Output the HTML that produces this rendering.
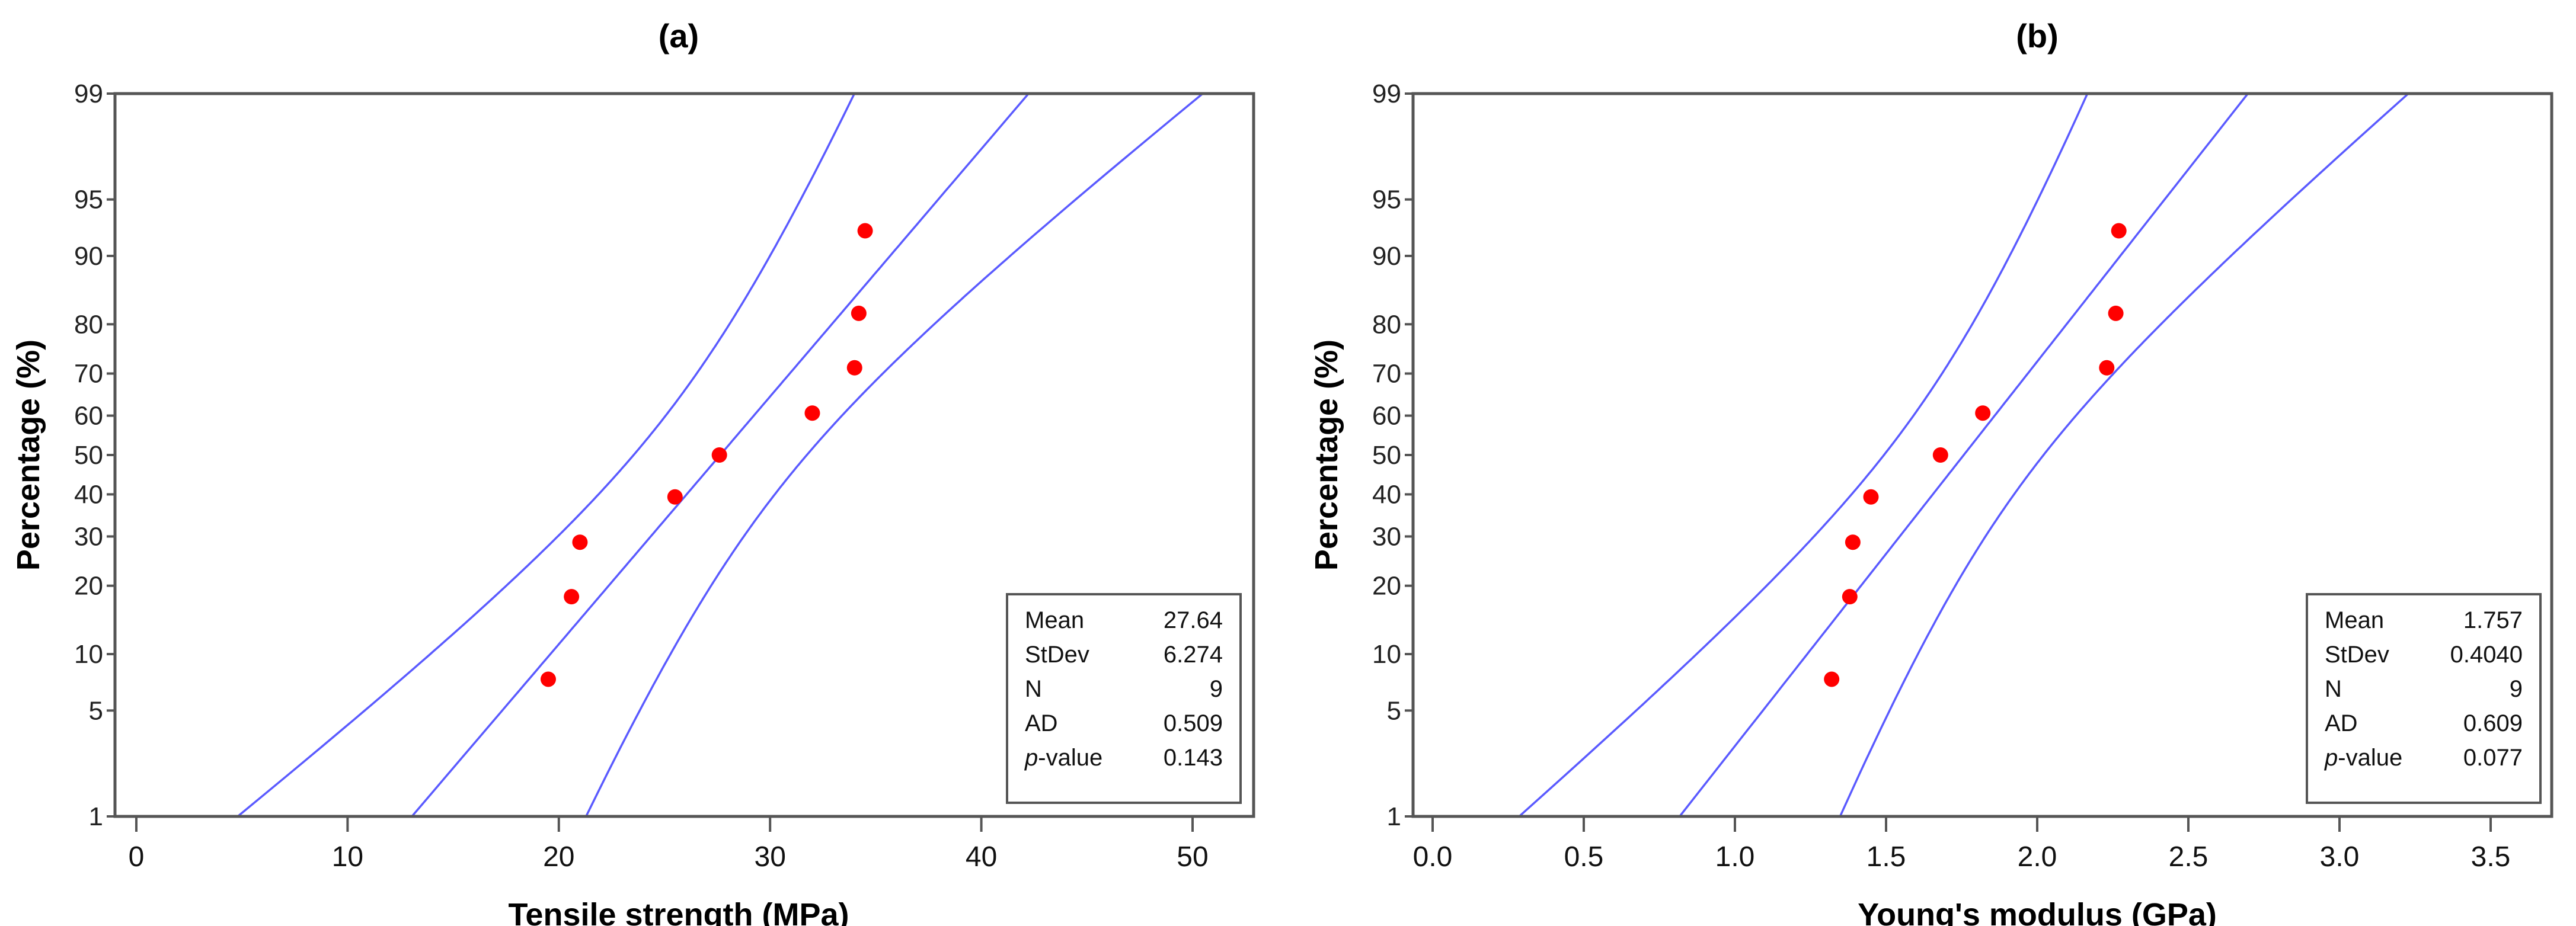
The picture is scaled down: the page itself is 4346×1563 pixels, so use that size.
<!DOCTYPE html>
<html><head><meta charset="utf-8"><style>
html,body{margin:0;padding:0;background:#fff;}
svg{display:block;font-family:"Liberation Sans",sans-serif;}
</style></head><body>
<svg id="fig" width="4346" height="1563" viewBox="0 0 4346 1563"></svg>
<script>
const yTicks = [1,5,10,20,30,40,50,60,70,80,90,95,99];
const aXTicks = [0,10,20,30,40,50];
const aXLabels = ["0","10","20","30","40","50"];
const aValues = [19.5,20.6,21.0,25.5,27.6,32.0,34.0,34.2,34.5];
const aStats = [27.64,6.274,9];
const aLegendVals = ["27.64","6.274","9","0.509","0.143"];
const bXTicks = [0,0.5,1,1.5,2,2.5,3,3.5];
const bXLabels = ["0.0","0.5","1.0","1.5","2.0","2.5","3.0","3.5"];
const bValues = [1.32,1.38,1.39,1.45,1.68,1.82,2.23,2.26,2.27];
const bStats = [1.757,0.4040,9];
const bLegendVals = ["1.757","0.4040","9","0.609","0.077"];
const legendKeys = ["Mean","StDev","N","AD","p-value"];

const NS="http://www.w3.org/2000/svg";
const svg=document.getElementById('fig');
function mk(tag,attrs,parent){const e=document.createElementNS(NS,tag);for(const k in attrs)e.setAttribute(k,attrs[k]);(parent||svg).appendChild(e);return e;}
function ninv(p){
 const a=[-39.69683028665376,220.9460984245205,-275.9285104469687,138.3577518672690,-30.66479806614716,2.506628277459239];
 const b=[-54.47609879822406,161.5858368580409,-155.6989798598866,66.80131188771972,-13.28068155288572];
 const c=[-0.007784894002430293,-0.3223964580411365,-2.400758277161838,-2.549732539343734,4.374664141464968,2.938163982698783];
 const d=[0.007784695709041462,0.3224671290700398,2.445134137142996,3.754408661907416];
 const pl=0.02425;let q,r;
 if(p<pl){q=Math.sqrt(-2*Math.log(p));return (((((c[0]*q+c[1])*q+c[2])*q+c[3])*q+c[4])*q+c[5])/((((d[0]*q+d[1])*q+d[2])*q+d[3])*q+1);}
 if(p>1-pl){q=Math.sqrt(-2*Math.log(1-p));return -(((((c[0]*q+c[1])*q+c[2])*q+c[3])*q+c[4])*q+c[5])/((((d[0]*q+d[1])*q+d[2])*q+d[3])*q+1);}
 q=p-0.5;r=q*q;return (((((a[0]*r+a[1])*r+a[2])*r+a[3])*r+a[4])*r+a[5])*q/(((((b[0]*r+b[1])*r+b[2])*r+b[3])*r+b[4])*r+1);
}
function panel(cfg){
 const g=mk('g',{});
 
 
 const L=cfg.left,R=cfg.right,T=158,B=1378;
 const zmax=ninv(0.99);
 const yS=p=>(T+B)/2 - ninv(p/100)/zmax*(B-T)/2;
 const xS=v=>cfg.x0+(v-cfg.xt[0])/(cfg.xt[cfg.xt.length-1]-cfg.xt[0])*(cfg.x1-cfg.x0);
 const cid='clip-'+cfg.name;
 const cp=mk('clipPath',{id:cid},g);mk('rect',{x:L,y:T,width:R-L,height:B-T},cp);
 const [mu,sd,n]=cfg.stats;
 const lines=[[],[],[]];
 for(let i=0;i<=200;i++){
  const pp=0.5+(99.5-0.5)*i/200;
  const z=ninv(pp/100);
  const xp=mu+z*sd;
  const se=1.96*sd*Math.sqrt(1/n+z*z/(2*(n-1)));
  const y=yS(pp);
  lines[0].push([xS(xp-se),y]);lines[1].push([xS(xp),y]);lines[2].push([xS(xp+se),y]);
 }
 const names=['lower-ci-band','fit-line','upper-ci-band'];
 lines.forEach((ln,i)=>{
  const e=mk('polyline',{points:ln.map(q=>q[0].toFixed(1)+','+q[1].toFixed(1)).join(' '),fill:'none',stroke:'#5a5aff','stroke-width':3.5,'clip-path':'url(#'+cid+')'},g);
  
  
 });
 cfg.values.forEach((v,i)=>{
  const pp=(i+1-0.3)/(cfg.values.length+0.4)*100;
  const c=mk('circle',{cx:xS(v),cy:yS(pp),r:13,fill:'#ff0000'},g);
  
  
 });
 const fr=mk('rect',{x:L,y:T,width:R-L,height:B-T,fill:'none',stroke:'#555','stroke-width':5},g);
 
 
 yTicks.forEach(p=>{
  const y=yS(p);
  mk('line',{x1:L-14,y1:y,x2:L,y2:y,stroke:'#555','stroke-width':4},g);
  const t=mk('text',{x:L-20,y:y+15,'text-anchor':'end','font-size':44,fill:'#222'},g);
  t.textContent=p;
  
  
 });
 cfg.xt.forEach((v,i)=>{
  const x=xS(v);
  mk('line',{x1:x,y1:B,x2:x,y2:B+26,stroke:'#555','stroke-width':4},g);
  const t=mk('text',{x:x,y:B+84,'text-anchor':'middle','font-size':48,fill:'#111'},g);
  t.textContent=cfg.xl[i];
  
  
 });
 const tt=mk('text',{x:cfg.titleX,y:80,'text-anchor':'middle','font-size':56,'font-weight':'bold'},g);
 tt.textContent=cfg.title;
 
 
 const yl=mk('text',{x:0,y:0,transform:'translate('+cfg.ylX+',768) rotate(-90)','text-anchor':'middle','font-size':54,'font-weight':'bold'},g);
 yl.textContent='Percentage (%)';
 
 
 const xl=mk('text',{x:cfg.titleX,y:1562,'text-anchor':'middle','font-size':54,'font-weight':'bold'},g);
 xl.textContent=cfg.xtitle;
 
 
 const lg=mk('g',{},g);
 
 
 const lx=cfg.legX,lw=394;
 mk('rect',{x:lx,y:1003,width:lw,height:352,fill:'#fff',stroke:'#555','stroke-width':4},lg);
 legendKeys.forEach((k,i)=>{
  const y=1060+i*58;
  const kt=mk('text',{x:lx+30,y:y,'font-size':40,fill:'#111'},lg);
  if(k==='p-value'){const s=mk('tspan',{'font-style':'italic'},kt);s.textContent='p';const s2=mk('tspan',{},kt);s2.textContent='-value';}
  else kt.textContent=k;
  
  
  const vt=mk('text',{x:lx+lw-30,y:y,'text-anchor':'end','font-size':40,fill:'#111'},lg);
  vt.textContent=cfg.leg[i];
  
  
 });
}
panel({name:'panel-a',left:194,right:2115,x0:230,x1:2012,xt:aXTicks,xl:aXLabels,values:aValues,stats:aStats,leg:aLegendVals,title:'(a)',titleX:1145,ylX:66,xtitle:'Tensile strength (MPa)',legX:1699});
panel({name:'panel-b',left:2384,right:4305,x0:2417,x1:4202,xt:bXTicks,xl:bXLabels,values:bValues,stats:bStats,leg:bLegendVals,title:'(b)',titleX:3437,ylX:2256,xtitle:"Young's modulus (GPa)",legX:3892});
</script>
</body></html>
